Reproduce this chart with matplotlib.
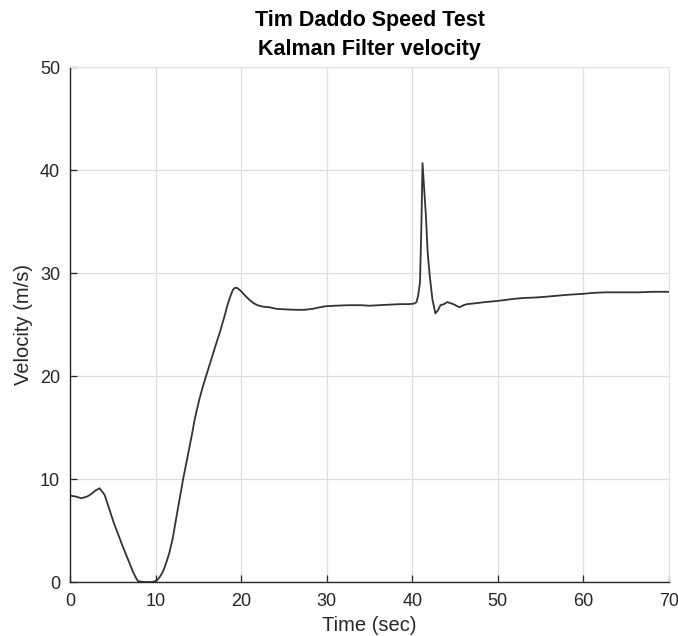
import matplotlib
matplotlib.use("Agg")
import matplotlib.pyplot as plt

# Kalman filter velocity
time_s = [0.0, 0.7, 1.33, 2.0, 2.5, 3.0, 3.47, 4.05, 4.63, 5.1, 5.6, 6.1, 6.58,
          7.0, 7.35, 7.65, 7.93, 8.5, 9.0, 9.5, 9.88, 10.2, 10.5, 10.8, 11.05,
          11.3, 11.6, 12.0, 12.5, 13.2, 13.7, 14.2, 14.6, 15.1, 15.5, 15.9,
          16.5, 17.1, 17.6, 18.05, 18.4, 18.8, 19.05, 19.3, 19.6, 20.0, 20.5,
          21.0, 21.45, 21.9, 22.6, 23.3, 24.1, 25.0, 26.4, 27.4, 28.4, 29.2,
          29.9, 31.0, 32.6, 34.0, 35.0, 36.1, 37.3, 38.5, 39.5, 40.2, 40.5,
          40.7, 40.9, 41.05, 41.2, 41.4, 41.6, 41.8, 42.05, 42.35, 42.7, 43.0,
          43.3, 43.7, 44.1, 44.8, 45.5, 46.0, 46.4, 47.5, 48.5, 49.8, 50.8,
          51.7, 53.0, 54.5, 56.0, 58.0, 59.9, 61.2, 62.6, 64.5, 66.5, 68.0,
          70.0]
velocity = [8.4, 8.3, 8.14, 8.3, 8.56, 8.9, 9.11, 8.46, 7.0, 5.8, 4.7, 3.6, 2.6,
            1.75, 1.0, 0.5, 0.1, 0.0, 0.0, 0.0, 0.05, 0.2, 0.5, 0.9, 1.4, 2.0,
            2.8, 4.2, 6.6, 9.9, 12.0, 14.1, 15.9, 17.7, 18.9, 20.0, 21.6, 23.2,
            24.5, 25.8, 26.9, 27.9, 28.4, 28.6, 28.55, 28.25, 27.8, 27.4, 27.1,
            26.9, 26.75, 26.7, 26.55, 26.5, 26.45, 26.45, 26.55, 26.7, 26.8,
            26.85, 26.9, 26.9, 26.85, 26.9, 26.95, 27.0, 27.0, 27.05, 27.2,
            27.9, 29.1, 34.0, 40.7, 38.1, 35.5, 32.0, 29.7, 27.5, 26.1, 26.4,
            26.9, 27.0, 27.2, 27.0, 26.7, 26.9, 27.0, 27.1, 27.2, 27.3, 27.4,
            27.5, 27.6, 27.65, 27.75, 27.9, 28.0, 28.1, 28.15, 28.15, 28.15,
            28.2, 28.2]

x_ticks = [0, 10, 20, 30, 40, 50, 60, 70]
y_ticks = [0, 10, 20, 30, 40, 50]

plt.rcParams["font.family"] = ["Liberation Sans", "DejaVu Sans"]

fig = plt.figure(figsize=(6.78, 6.36), dpi=100)
ax = fig.add_axes([0.1032, 0.0849, 0.8835, 0.809])

ax.plot(time_s, velocity, color="#333333", lw=1.3)

ax.set_xlim(0, 70)
ax.set_ylim(0, 50)
ax.set_xticks(x_ticks)
ax.set_yticks(y_ticks)
ax.grid(True, color="#dedede", lw=0.9)
ax.set_axisbelow(True)

for side in ("top", "right"):
    ax.spines[side].set_color("#e3e3e3")
for side in ("left", "bottom"):
    ax.spines[side].set_color("#262626")
    ax.spines[side].set_linewidth(1.0)

ax.tick_params(direction="in", length=5, width=0.9, colors="#262626",
               labelsize=13)
ax.tick_params(axis="x", pad=8)
ax.tick_params(axis="y", pad=7)
ax.tick_params(top=False, right=False)

ax.set_xlabel("Time (sec)", fontsize=14.5, color="#262626", labelpad=4)
ax.set_ylabel("Velocity (m/s)", fontsize=14.5, color="#262626", labelpad=5)
ax.set_title("Tim Daddo Speed Test\nKalman Filter velocity",
             fontsize=15.5, fontweight="bold", linespacing=1.5, pad=9)

fig.savefig("out.png", dpi=100)
